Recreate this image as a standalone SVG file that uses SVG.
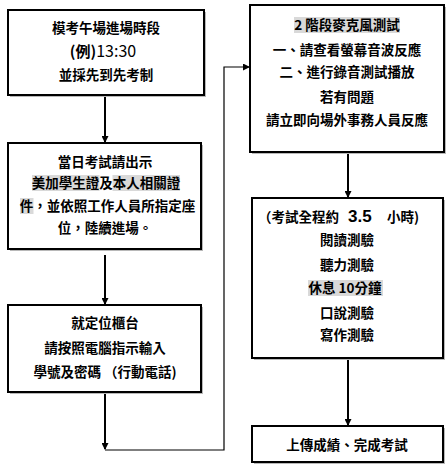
<svg xmlns="http://www.w3.org/2000/svg" width="447" height="474" viewBox="0 0 447 474">
<defs>
<style>
.box{fill:#fff;stroke:#000;stroke-width:2}
.sh{fill:#b8b8b8}
.t{font-family:"Noto Sans CJK TC","Noto Sans CJK SC",sans-serif;font-size:13.5px;font-weight:bold;text-anchor:middle;fill:#000}
.s{text-anchor:start}
.hl{fill:#d9d9d9}
.c{fill:none;stroke:#000;stroke-width:2}
.thin{fill:none;stroke:#000;stroke-width:1.2}
</style>
<marker id="ah" markerWidth="7" markerHeight="7" refX="6" refY="3.5" orient="auto" markerUnits="userSpaceOnUse">
<path d="M0,0 L7,3.5 L0,7 Z" fill="#000"/>
</marker>
</defs>
<rect width="447" height="474" fill="#fff"/>

<g id="connectors">
<line class="c" x1="105" y1="96" x2="105" y2="142" marker-end="url(#ah)"/>
<line class="c" x1="105" y1="255" x2="105" y2="304" marker-end="url(#ah)"/>
<line class="c" x1="105" y1="393" x2="105" y2="449" marker-end="url(#ah)"/>
<polyline class="thin" points="105,450 224,450 224,67 249,67" marker-end="url(#ah)"/>
<line class="c" x1="348" y1="152" x2="348" y2="197" marker-end="url(#ah)"/>
<line class="c" x1="348" y1="360" x2="348" y2="425" marker-end="url(#ah)"/>
</g>

<g id="node1">
<rect class="sh" x="10" y="12" width="196" height="85"/>
<rect class="box" x="8" y="10" width="196" height="85"/>
<text class="t" x="106" y="33">模考午場進場時段</text>
<text x="103" y="57" style="font-family:'Noto Sans CJK TC',sans-serif;font-size:16px;text-anchor:middle"><tspan font-weight="bold" font-size="15">(例)</tspan>13:30</text>
<text class="t" x="106" y="80">並採先到先考制</text>
</g>

<g id="node2">
<rect class="sh" x="10" y="145" width="193" height="106"/>
<rect class="box" x="8" y="143" width="193" height="106"/>
<rect class="hl" x="32" y="175" width="67.5" height="16"/>
<rect class="hl" x="112.5" y="175" width="67.5" height="16"/>
<rect class="hl" x="20" y="198" width="13.5" height="16"/>
<text class="t" x="105" y="167">當日考試請出示</text>
<text class="t" x="106" y="188">美加學生證及本人相關證</text>
<text class="t" x="107.5" y="211">件，並依照工作人員所指定座</text>
<text class="t" x="105" y="233">位，陸續進場。</text>
</g>

<g id="node3">
<rect class="sh" x="10" y="307" width="193" height="87"/>
<rect class="box" x="8" y="305" width="193" height="87"/>
<text class="t" x="105" y="328">就定位櫃台</text>
<text class="t" x="105" y="353">請按照電腦指示輸入</text>
<text class="t" x="105" y="377">學號及密碼 （行動電話)</text>
</g>

<g id="node4">
<rect class="sh" x="252" y="7" width="194" height="147"/>
<rect class="box" x="250" y="5" width="194" height="147"/>
<rect class="hl" x="294" y="17" width="106" height="16"/>
<text class="t" x="347" y="30">2 階段麥克風測試</text>
<text class="t" x="347" y="55">一、請查看螢幕音波反應</text>
<text class="t" x="347" y="77">二、進行錄音測試播放</text>
<text class="t" x="347" y="102">若有問題</text>
<text class="t" x="347" y="125">請立即向場外事務人員反應</text>
</g>

<g id="node5">
<rect class="sh" x="254" y="200" width="191" height="160"/>
<rect class="box" x="252" y="198" width="191" height="160"/>
<rect class="hl" x="308" y="280" width="75" height="16"/>
<text class="t s" x="258" y="222">（考試全程約</text>
<text class="t s" x="348" y="222" style="font-family:'Liberation Sans',sans-serif;font-size:17px">3.5</text>
<text class="t s" x="387" y="222">小時)</text>
<text class="t" x="347" y="245">閱讀測驗</text>
<text class="t" x="347" y="270">聽力測驗</text>
<text class="t" x="345" y="293">休息 10分鐘</text>
<text class="t" x="347" y="318">口說測驗</text>
<text class="t" x="347" y="340">寫作測驗</text>
</g>

<g id="node6">
<rect class="sh" x="254" y="428" width="191" height="36"/>
<rect class="box" x="252" y="426" width="191" height="36"/>
<text class="t" x="347" y="450">上傳成績、完成考試</text>
</g>
</svg>
